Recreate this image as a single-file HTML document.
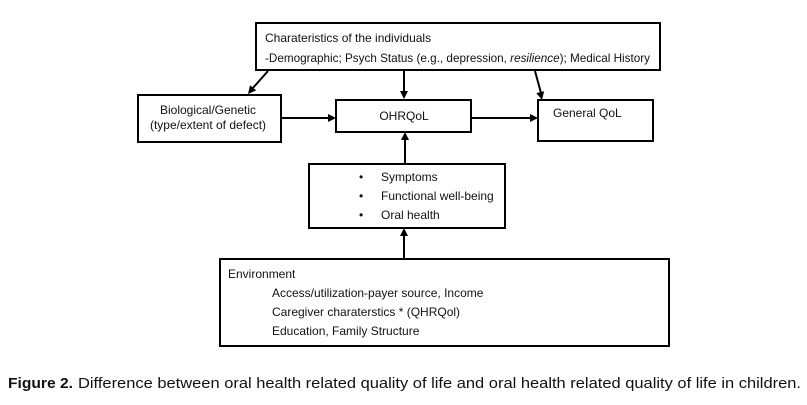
<!DOCTYPE html>
<html>
<head>
<meta charset="utf-8">
<style>
  html, body { margin: 0; padding: 0; background: #fff; }
  body { width: 807px; height: 405px; overflow: hidden; }
  svg { display: block; }
  text { font-family: "Liberation Sans", Arial, sans-serif; fill: #111; }
</style>
</head>
<body>
<svg width="807" height="405" viewBox="0 0 807 405" xmlns="http://www.w3.org/2000/svg">
  <rect x="0" y="0" width="807" height="405" fill="#fff"/>
  <g fill="none" stroke="#000" stroke-width="2">
    <!-- Top box -->
    <rect x="256" y="23" width="404" height="47"/>
    <!-- Bio box -->
    <rect x="138" y="95" width="143" height="47"/>
    <!-- OHRQoL box -->
    <rect x="336" y="100" width="135" height="32"/>
    <!-- General QoL box -->
    <rect x="538" y="100" width="115" height="41"/>
    <!-- Symptoms box -->
    <rect x="309" y="164" width="196" height="64"/>
    <!-- Environment box -->
    <rect x="220" y="259" width="449" height="87"/>

    <!-- connectors -->
    <line x1="268" y1="71" x2="252" y2="89"/>
    <line x1="404" y1="71" x2="404" y2="92"/>
    <line x1="535" y1="71" x2="541" y2="93"/>
    <line x1="282" y1="118" x2="329" y2="118"/>
    <line x1="472" y1="118" x2="531" y2="118"/>
    <line x1="405" y1="163" x2="405" y2="139"/>
    <line x1="404" y1="258" x2="404" y2="235"/>
  </g>
  <g fill="#000" stroke="none">
    <polygon points="248,94 250,85.2 256.2,90.4"/>
    <polygon points="400,91 404,99 408,91"/>
    <polygon points="542,100 536.3,93.1 544.1,91.3"/>
    <polygon points="328,114 336,118 328,122"/>
    <polygon points="530,114 538,118 530,122"/>
    <polygon points="401,140 405,132 409,140"/>
    <polygon points="400,236 404,228 408,236"/>
  </g>

  <!-- Top box text -->
  <text x="265" y="42" font-size="12">Charateristics of the individuals</text>
  <text x="265" y="62" font-size="12" textLength="385" lengthAdjust="spacingAndGlyphs">-Demographic; Psych Status (e.g., depression, <tspan font-style="italic">resilience</tspan>); Medical History</text>

  <!-- Bio text -->
  <text x="208" y="114" font-size="12" text-anchor="middle">Biological/Genetic</text>
  <text x="208" y="129" font-size="12" text-anchor="middle">(type/extent of defect)</text>

  <!-- OHRQoL -->
  <text x="404" y="120" font-size="12" text-anchor="middle">OHRQoL</text>

  <!-- General QoL -->
  <text x="553" y="117" font-size="12">General QoL</text>

  <!-- Symptoms box -->
  <text x="359" y="181" font-size="12">•</text>
  <text x="381" y="181" font-size="12">Symptoms</text>
  <text x="359" y="200" font-size="12">•</text>
  <text x="381" y="200" font-size="12">Functional well-being</text>
  <text x="359" y="219" font-size="12">•</text>
  <text x="381" y="219" font-size="12">Oral health</text>

  <!-- Environment box -->
  <text x="228" y="278" font-size="12">Environment</text>
  <text x="272" y="297" font-size="12">Access/utilization-payer source, Income</text>
  <text x="272" y="316" font-size="12">Caregiver charaterstics * (QHRQol)</text>
  <text x="272" y="335" font-size="12">Education, Family Structure</text>

  <!-- Caption -->
  <text x="8" y="388" font-size="15" font-weight="bold" textLength="65" lengthAdjust="spacingAndGlyphs">Figure 2.</text>
  <text x="78" y="388" font-size="15" textLength="723" lengthAdjust="spacingAndGlyphs">Difference between oral health related quality of life and oral health related quality of life in children.</text>
</svg>
</body>
</html>
